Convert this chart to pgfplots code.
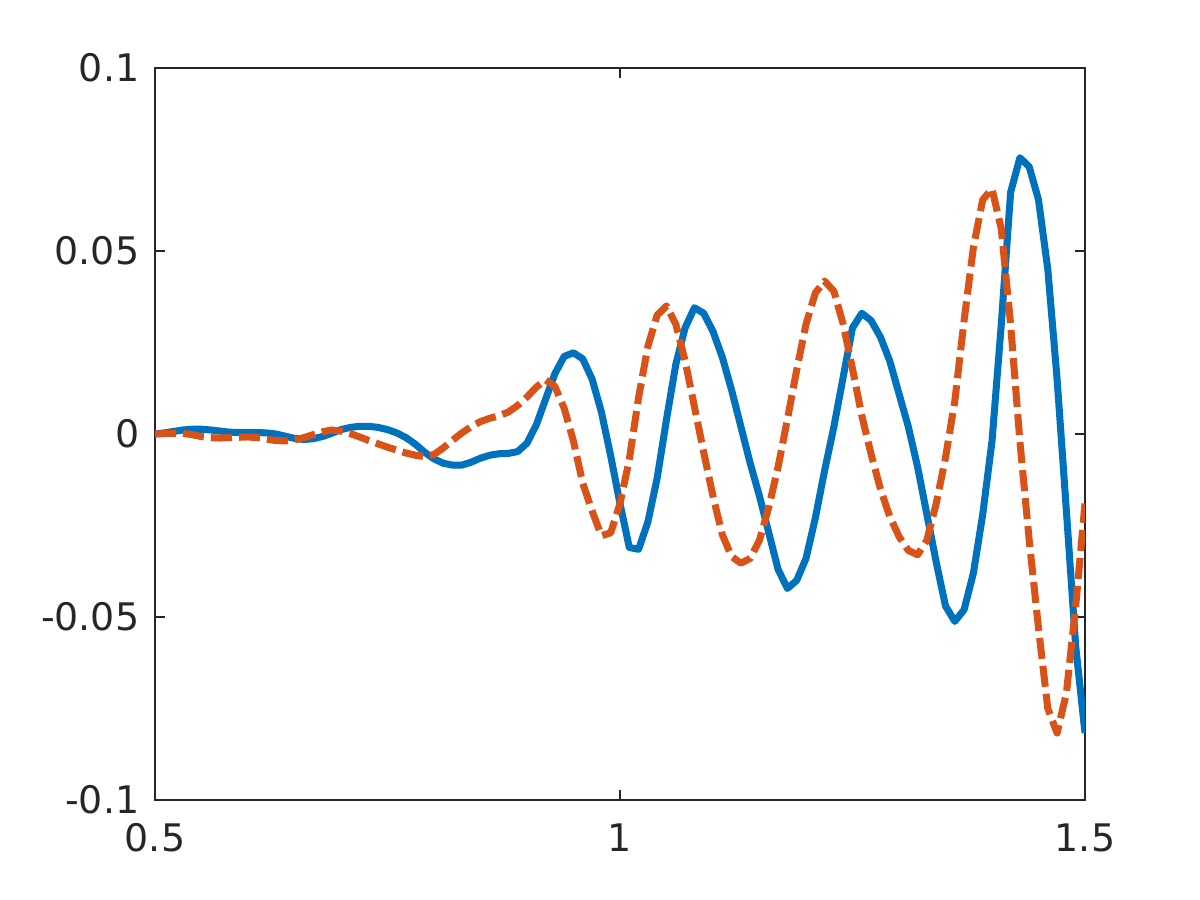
\documentclass[border=0pt]{standalone}
\usepackage{pgfplots}
\pgfplotsset{compat=1.18}
\usepackage{pgfplotstable}
\usepackage{fontspec}
\setmainfont{DejaVu Sans}
\definecolor{mblue}{rgb}{0,0.447,0.741}
\definecolor{morange}{rgb}{0.85,0.325,0.098}
\definecolor{axgray}{rgb}{0.15,0.15,0.15}

\pgfplotstableread{
x y
0.50 0.0000
0.51 0.0003
0.52 0.0007
0.53 0.0011
0.54 0.0013
0.55 0.0013
0.56 0.0011
0.57 0.0008
0.58 0.0005
0.59 0.0004
0.60 0.0004
0.61 0.0004
0.62 0.0003
0.63 0.0000
0.64 -0.0006
0.65 -0.0012
0.66 -0.0015
0.67 -0.0013
0.68 -0.0007
0.69 0.0002
0.70 0.0012
0.71 0.0018
0.72 0.0021
0.73 0.0021
0.74 0.0018
0.75 0.0012
0.76 0.0003
0.77 -0.0010
0.78 -0.0028
0.79 -0.0050
0.80 -0.0068
0.81 -0.0080
0.82 -0.0085
0.83 -0.0085
0.84 -0.0077
0.85 -0.0066
0.86 -0.0058
0.87 -0.0054
0.88 -0.0053
0.89 -0.0048
0.90 -0.0025
0.91 0.0025
0.92 0.0095
0.93 0.0165
0.94 0.0212
0.95 0.0222
0.96 0.0205
0.97 0.0150
0.98 0.0060
0.99 -0.0060
1.00 -0.0190
1.01 -0.0310
1.02 -0.0315
1.03 -0.0240
1.04 -0.0120
1.05 0.0040
1.06 0.0190
1.07 0.0290
1.08 0.0345
1.09 0.0330
1.10 0.0280
1.11 0.0210
1.12 0.0120
1.13 0.0020
1.14 -0.0080
1.15 -0.0170
1.16 -0.0270
1.17 -0.0370
1.18 -0.0422
1.19 -0.0400
1.20 -0.0340
1.21 -0.0230
1.22 -0.0100
1.23 0.0020
1.24 0.0156
1.25 0.0290
1.26 0.0330
1.27 0.0310
1.28 0.0265
1.29 0.0200
1.30 0.0110
1.31 0.0020
1.32 -0.0090
1.33 -0.0220
1.34 -0.0350
1.35 -0.0470
1.36 -0.0512
1.37 -0.0480
1.38 -0.0380
1.39 -0.0220
1.40 -0.0020
1.41 0.0300
1.42 0.0660
1.43 0.0755
1.44 0.0730
1.45 0.0640
1.46 0.0450
1.47 0.0150
1.48 -0.0210
1.49 -0.0580
1.50 -0.0817
}\blue

\pgfplotstableread{
x y
0.50 0.0000
0.51 0.0001
0.52 0.0002
0.53 0.0002
0.54 -0.0002
0.55 -0.0007
0.56 -0.0010
0.57 -0.0011
0.58 -0.0010
0.59 -0.0009
0.60 -0.0008
0.61 -0.0010
0.62 -0.0014
0.63 -0.0018
0.64 -0.0019
0.65 -0.0016
0.66 -0.0010
0.67 -0.0002
0.68 0.0006
0.69 0.0011
0.70 0.0008
0.71 0.0001
0.72 -0.0008
0.73 -0.0018
0.74 -0.0027
0.75 -0.0036
0.76 -0.0044
0.77 -0.0052
0.78 -0.0058
0.79 -0.0062
0.80 -0.0056
0.81 -0.0038
0.82 -0.0017
0.83 0.0003
0.84 0.0020
0.85 0.0034
0.86 0.0043
0.87 0.0050
0.88 0.0060
0.89 0.0078
0.90 0.0101
0.91 0.0128
0.92 0.0148
0.93 0.0130
0.94 0.0070
0.95 -0.0020
0.96 -0.0135
0.97 -0.0210
0.98 -0.0278
0.99 -0.0270
1.00 -0.0190
1.01 -0.0070
1.02 0.0100
1.03 0.0240
1.04 0.0325
1.05 0.0350
1.06 0.0300
1.07 0.0200
1.08 0.0075
1.09 -0.0050
1.10 -0.0170
1.11 -0.0275
1.12 -0.0335
1.13 -0.0353
1.14 -0.0340
1.15 -0.0290
1.16 -0.0200
1.17 -0.0090
1.18 0.0040
1.19 0.0175
1.20 0.0300
1.21 0.0385
1.22 0.0418
1.23 0.0390
1.24 0.0300
1.25 0.0178
1.26 0.0050
1.27 -0.0055
1.28 -0.0150
1.29 -0.0225
1.30 -0.0280
1.31 -0.0318
1.32 -0.0330
1.33 -0.0290
1.34 -0.0190
1.35 -0.0065
1.36 0.0090
1.37 0.0310
1.38 0.0510
1.39 0.0640
1.40 0.0670
1.41 0.0560
1.42 0.0300
1.43 -0.0020
1.44 -0.0290
1.45 -0.0530
1.46 -0.0750
1.47 -0.0817
1.48 -0.0708
1.49 -0.0470
1.50 -0.0190
}\orange

\begin{document}
\begin{tikzpicture}
\useasboundingbox (-1.55,-1) rectangle (10.45,8);
\begin{axis}[at={(0,0)},anchor=south west,scale only axis,width=9.3cm,height=7.32cm,
  xmin=0.5,xmax=1.5,ymin=-0.1,ymax=0.1,
  xtick={0.5,1,1.5},xticklabels={0.5,1,1.5},
  ytick={-0.1,-0.05,0,0.05,0.1},yticklabels={-0.1,-0.05,0,0.05,0.1},
  tick align=inside,tickpos=both,major tick length=0.1cm,
  axis line style={axgray,line width=0.5pt},
  every tick/.style={axgray,line width=0.5pt},
  tick label style={font=\fontsize{10.8}{13}\selectfont,text=axgray,inner sep=0pt},
  xticklabel style={anchor=north,yshift=-0.23cm},
  yticklabel style={anchor=east,xshift=-0.15cm}]
\addplot[mblue,line width=2pt,line join=round] table[x=x,y=y] {\blue};
\addplot[morange,line width=2pt,line join=round,dash pattern=on 6pt off 2pt] table[x=x,y=y] {\orange};
\end{axis}
\end{tikzpicture}
\end{document}
